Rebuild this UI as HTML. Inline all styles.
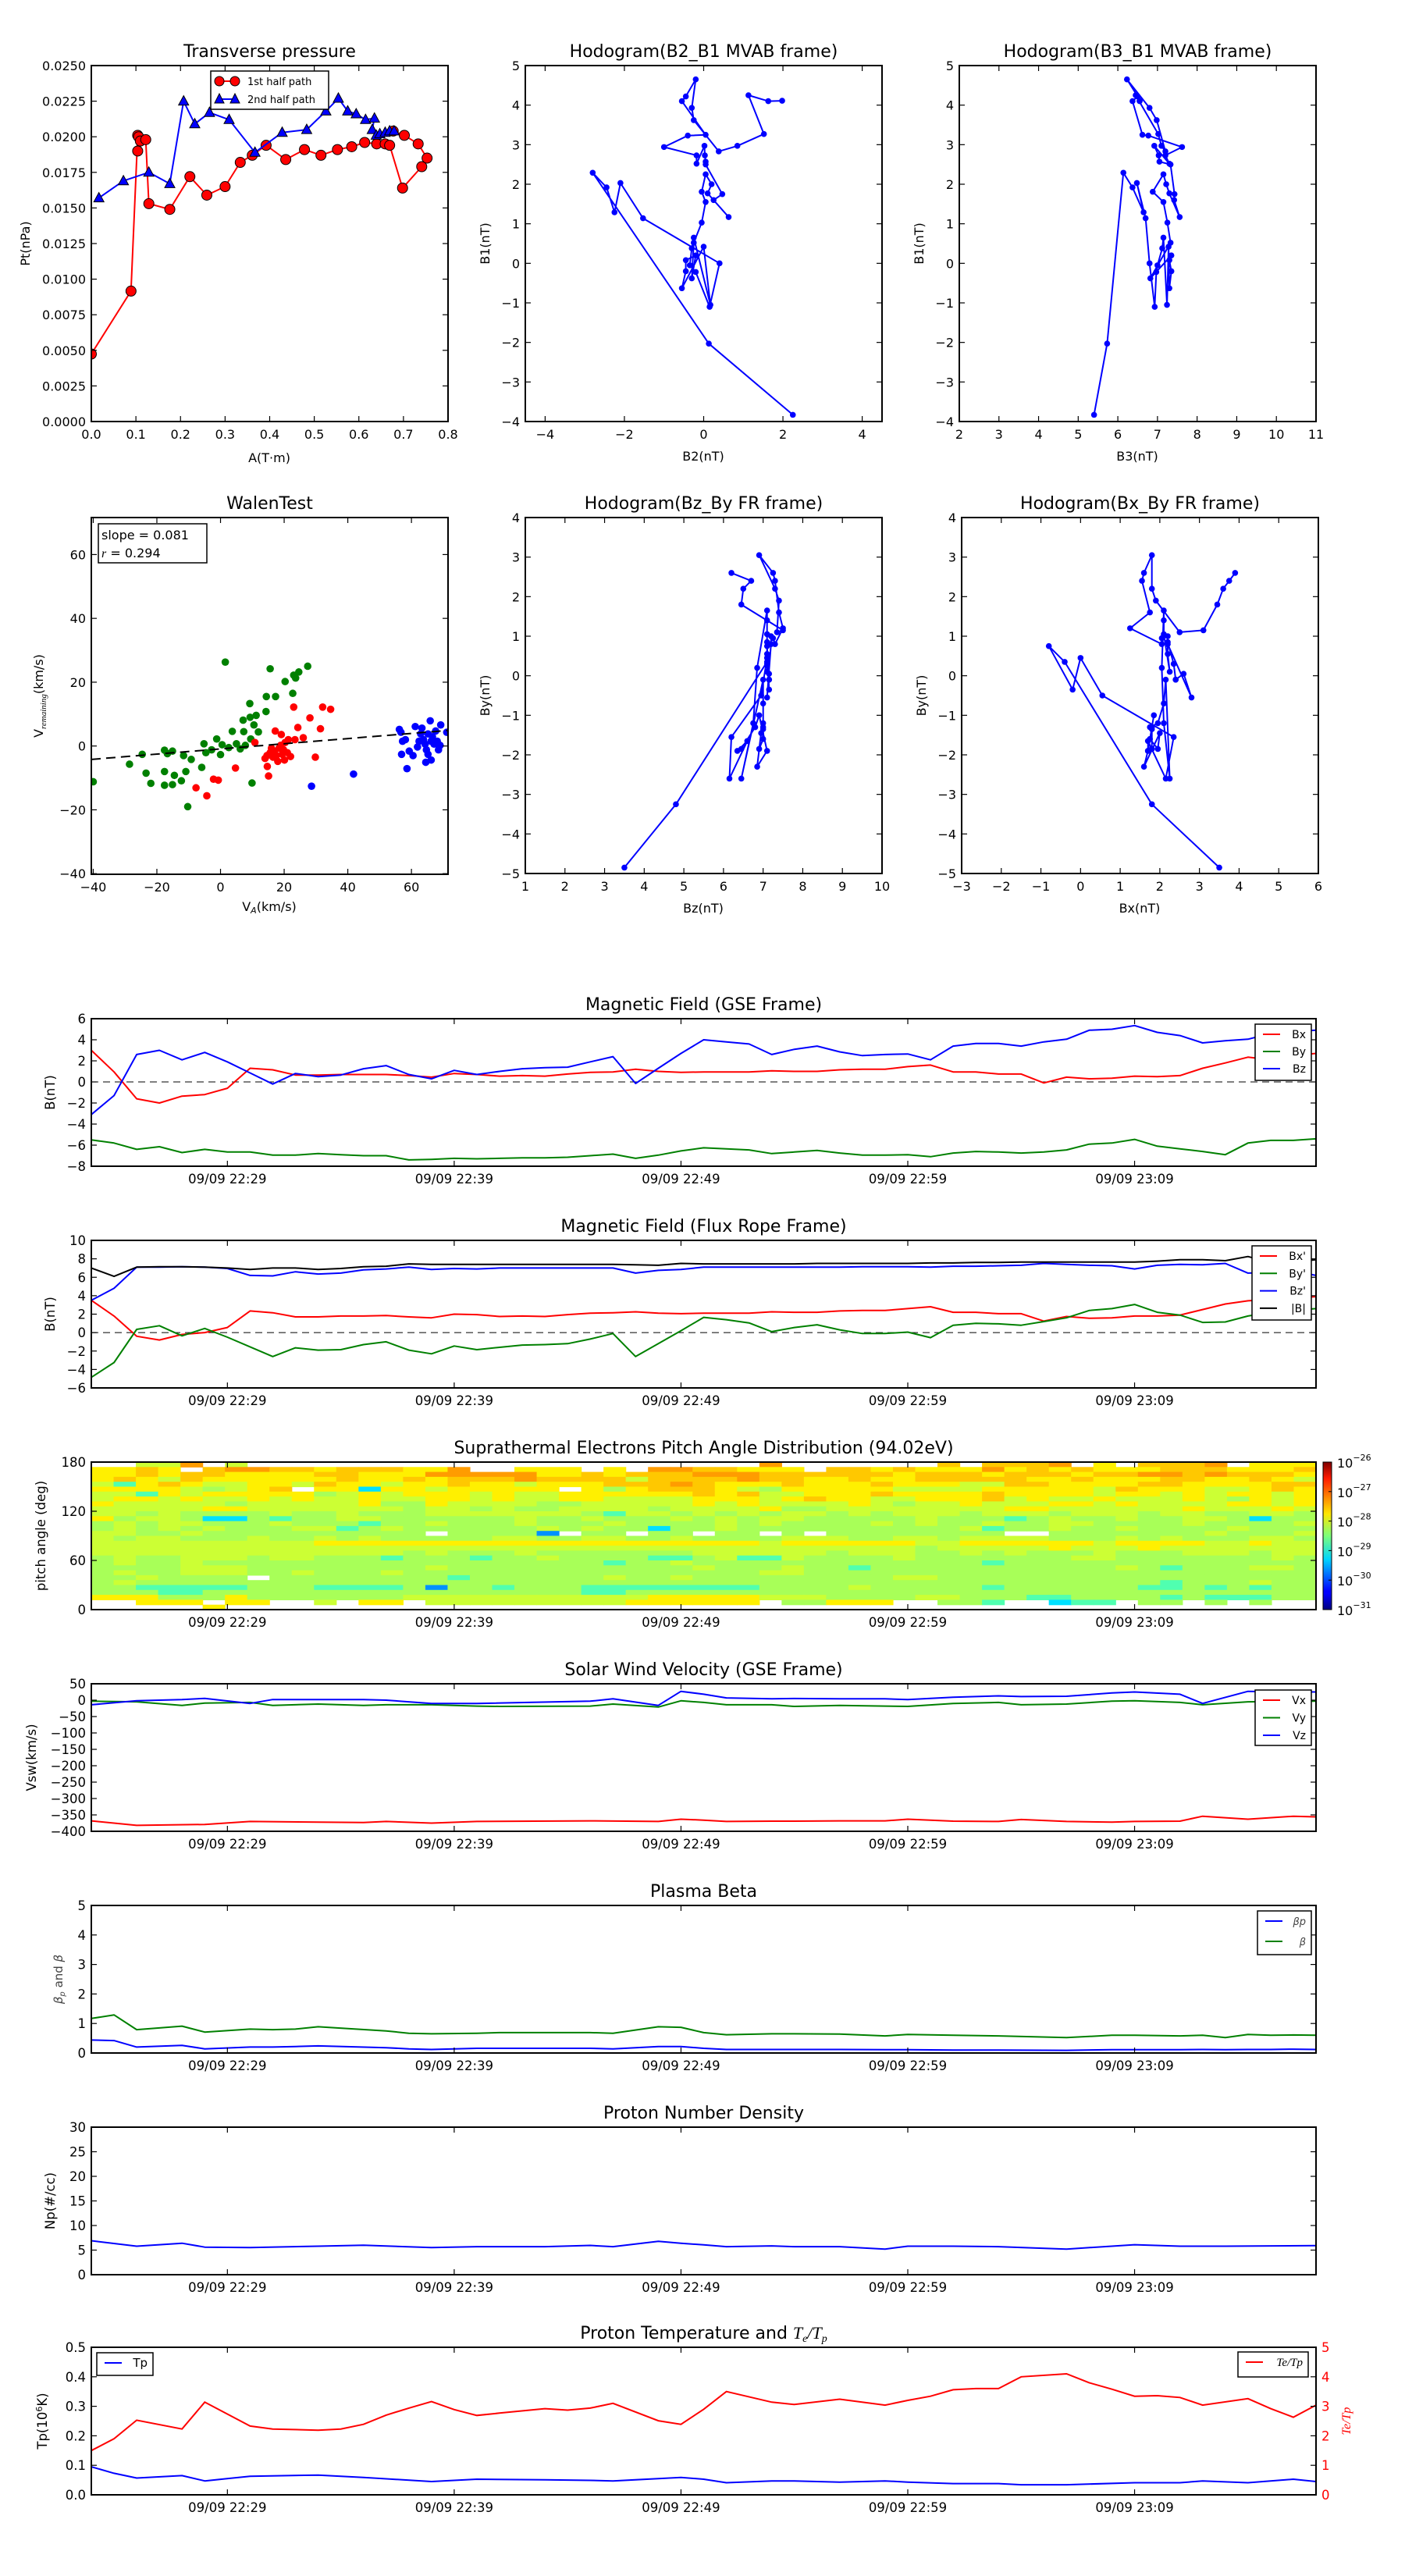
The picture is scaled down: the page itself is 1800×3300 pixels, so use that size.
<!DOCTYPE html>
<html><head><meta charset="utf-8"><title>Flux rope analysis</title>
<style>
html,body{margin:0;padding:0;background:#fff;}
svg{display:block;font-family:"DejaVu Sans","Liberation Sans",sans-serif;}
</style></head>
<body>
<svg id="fig" width="1800" height="3300" viewBox="0 0 1800 3300" xmlns="http://www.w3.org/2000/svg">
<defs>
<linearGradient id="jet" x1="0" y1="1" x2="0" y2="0">
<stop offset="0" stop-color="#00007f"/><stop offset="0.11" stop-color="#0000ff"/><stop offset="0.125" stop-color="#0000ff"/>
<stop offset="0.34" stop-color="#00d4ff"/><stop offset="0.5" stop-color="#7dff7a"/><stop offset="0.65" stop-color="#ffe600"/>
<stop offset="0.89" stop-color="#ff1a00"/><stop offset="1" stop-color="#7f0000"/>
</linearGradient>
</defs>
</svg>
<script>
// ---------------- DATA ----------------
// Transverse pressure
const tpA1=[0.0,0.089,0.104,0.106,0.104,0.110,0.122,0.129,0.176,0.221,0.259,0.300,0.334,0.361,0.392,0.436,0.478,0.515,0.552,0.584,0.613,0.640,0.659,0.669,0.698,0.741,0.753,0.733,0.702,0.677];
const tpP1=[0.00474,0.00916,0.0201,0.0200,0.0190,0.0197,0.0198,0.0153,0.0149,0.0172,0.0159,0.0165,0.0182,0.0187,0.0194,0.0184,0.0191,0.0187,0.0191,0.0193,0.0196,0.0195,0.0195,0.0194,0.0164,0.0179,0.0185,0.0195,0.0201,0.0204];
const tpA2=[0.017,0.072,0.129,0.176,0.207,0.232,0.265,0.309,0.367,0.428,0.483,0.526,0.554,0.575,0.594,0.615,0.635,0.630,0.639,0.647,0.659,0.669,0.679];
const tpP2=[0.0157,0.0169,0.0175,0.0167,0.0225,0.0209,0.0217,0.0212,0.0189,0.0203,0.0205,0.0218,0.0227,0.0218,0.0216,0.0212,0.0213,0.0205,0.0201,0.0202,0.0203,0.0204,0.0204];
// MVAB hodograms
const mvB1=[-3.83,-2.03,2.29,1.92,1.29,2.03,1.14,0.0,-1.1,-0.22,-0.05,0.38,0.65,-1.05,0.42,-0.63,-0.2,0.08,0.2,-0.38,0.52,1.03,1.55,1.81,2.25,2.0,1.77,1.17,1.6,1.75,2.5,2.57,2.73,2.97,2.52,2.73,2.94,3.23,3.25,4.1,4.22,4.65,3.93,3.62,2.83,2.97,3.27,4.25,4.1,4.11];
const mvB2=[2.25,0.13,-2.8,-2.45,-2.25,-2.1,-1.53,0.4,0.15,-0.2,-0.35,-0.3,-0.25,0.17,0.0,-0.55,-0.45,-0.45,-0.2,-0.3,-0.25,-0.05,0.05,-0.05,0.05,0.2,0.1,0.63,0.25,0.47,0.05,0.05,0.03,0.02,-0.18,-0.18,-1.0,-0.4,0.05,-0.55,-0.45,-0.2,-0.3,-0.25,0.38,0.85,1.52,1.13,1.63,1.98];
const mvB3=[5.4,5.73,6.14,6.37,6.65,6.48,6.7,6.8,6.93,6.97,7.0,7.12,7.15,7.24,7.28,7.3,7.35,7.3,7.35,6.82,7.33,7.25,7.15,6.88,7.15,7.22,7.3,7.56,7.42,7.43,7.33,7.05,7.03,6.92,7.3,7.2,7.62,6.77,6.62,6.37,6.5,6.23,6.8,6.98,7.2,7.1,7.02,6.45,6.55,6.55];
// Walen test
const walGx=[-40,-28.6,-24.6,-23.4,-21.9,-17.6,-16.7,-15.1,-17.6,-17.6,-15.1,-14.5,-12.3,-11.6,-10.9,-10.3,-9.2,-5.9,-5.2,-4.6,-2.8,-1.2,0,0.5,1.5,2.6,3.7,5,6.2,7.1,7.3,7.8,9.2,9.3,9.5,9.9,10.5,11.2,11.9,14.3,14.4,15.6,17.3,20.3,22.7,23,23.6,24.6,27.4];
const walGy=[-11.2,-5.7,-2.6,-8.5,-11.7,-1.3,-2.4,-1.6,-8,-12.3,-12.1,-9.2,-10.9,-3,-8,-19,-4.2,-6.7,0.7,-2.1,-1.2,2.2,-2.7,0.4,26.3,-0.5,4.6,0.7,-0.9,8.1,4.5,0.2,13.3,9,2.2,-11.6,6.6,9.6,4.4,10.8,15.5,24.2,15.5,20.2,16.5,22.2,21.3,23.2,25];
const walRx=[-7.7,-4.3,-2.2,-0.7,4.7,10.8,14,14.7,15.1,15.6,16.5,17.2,17.5,18.4,19.1,19.4,20.1,20.3,21.3,22,23,23.4,24.3,26,28.1,29.8,31.4,32.1,34.6,16,18,19.8,21,18.9,17,14.6];
const walRy=[-13.1,-15.6,-10.4,-10.7,-6.9,1.1,-3.9,-6.4,-9.4,-2.1,-3.5,4.7,-3,-0.7,3.6,-2.6,-4.4,1.1,2,-3.3,12.2,2,5.8,2.6,8.8,-3.5,5.4,12.2,11.5,-0.7,-4.8,-1.2,-2.1,0.2,-1.6,-3];
const walBx=[28.6,41.8,56.2,56.7,57.2,56.9,58.6,59.3,60.5,61.2,61.9,62.9,63.8,64.5,64.7,65.2,65.9,66.2,66.6,67.1,67.6,68.5,69,69.2,71.1,63.3,64.3,65.2,62.4,66.2,68.1,58.1];
const walBy=[-12.6,-8.8,5.2,4.3,1.5,-2.6,-7.1,-1.6,-3,6.1,-0.3,3.8,2,-5.1,-1.2,-2.6,7.9,-4.4,2.9,0.6,4.7,-1.2,0.2,6.6,4.3,5.6,0.6,3.8,1.5,1.5,1.5,2];
const walSlope=0.081, walIntercept=-0.91;
// Time series (minutes after 22:23)
const tB=[0,1,2,3,4,5,6,7,8,9,10,11,12,13,14,15,16,17,18,19,20,21,22,23,24,25,26,27,28,29,30,31,32,33,34,35,36,37,38,39,40,41,42,43,44,45,46,47,48,49,50,51,52,53,54];
const timeTickMin=[6,16,26,36,46];
const timeTickLabels=["09/09 22:29","09/09 22:39","09/09 22:49","09/09 22:59","09/09 23:09"];
const gseBx=[3.0,0.95,-1.6,-2.0,-1.35,-1.2,-0.6,1.3,1.15,0.65,0.65,0.7,0.7,0.7,0.6,0.45,0.8,0.7,0.55,0.6,0.55,0.75,0.9,0.95,1.2,1.0,0.9,0.95,0.95,0.95,1.05,1.0,1.0,1.15,1.2,1.2,1.45,1.6,0.95,0.95,0.75,0.75,-0.1,0.45,0.3,0.35,0.55,0.5,0.6,1.3,1.8,2.35,2.1,2.5,2.7];
const gseBy=[-5.5,-5.8,-6.4,-6.15,-6.7,-6.4,-6.65,-6.65,-6.95,-6.95,-6.8,-6.9,-7.0,-7.0,-7.4,-7.35,-7.25,-7.3,-7.25,-7.2,-7.2,-7.15,-7.0,-6.85,-7.25,-6.95,-6.55,-6.25,-6.35,-6.45,-6.8,-6.65,-6.5,-6.75,-6.95,-6.95,-6.9,-7.1,-6.75,-6.6,-6.65,-6.75,-6.65,-6.45,-5.9,-5.8,-5.45,-6.1,-6.35,-6.6,-6.9,-5.8,-5.55,-5.55,-5.4];
const gseBz=[-3.1,-1.3,2.6,3.0,2.1,2.8,1.9,0.85,-0.2,0.8,0.5,0.65,1.25,1.55,0.7,0.3,1.1,0.7,1.0,1.25,1.35,1.4,1.9,2.4,-0.15,1.3,2.7,4.0,3.8,3.6,2.6,3.1,3.4,2.85,2.5,2.6,2.65,2.1,3.4,3.65,3.65,3.4,3.8,4.05,4.9,5.0,5.35,4.7,4.4,3.7,3.9,4.05,4.6,4.8,4.9];
const frBx=[3.5,1.8,-0.4,-0.8,-0.2,0.0,0.55,2.35,2.15,1.7,1.7,1.8,1.8,1.85,1.7,1.6,2.0,1.95,1.75,1.8,1.75,1.95,2.1,2.15,2.25,2.1,2.05,2.1,2.1,2.1,2.25,2.2,2.2,2.35,2.4,2.4,2.6,2.8,2.2,2.2,2.05,2.05,1.25,1.75,1.55,1.6,1.8,1.8,1.9,2.5,3.1,3.45,3.6,3.75,3.9];
const frBy=[-4.85,-3.25,0.35,0.75,-0.35,0.45,-0.5,-1.55,-2.6,-1.65,-1.9,-1.85,-1.3,-1.0,-1.9,-2.3,-1.45,-1.85,-1.6,-1.35,-1.3,-1.2,-0.7,-0.1,-2.6,-1.2,0.2,1.65,1.4,1.05,0.1,0.55,0.85,0.3,-0.1,-0.1,0.05,-0.55,0.8,1.0,0.95,0.8,1.2,1.6,2.4,2.6,3.05,2.2,1.9,1.1,1.15,1.8,2.2,2.4,2.6];
const frBz=[3.5,4.8,7.1,7.1,7.15,7.1,6.95,6.2,6.15,6.6,6.35,6.45,6.8,6.9,7.1,6.85,6.95,6.9,7.0,7.0,7.0,7.0,7.0,7.0,6.45,6.75,6.85,7.1,7.1,7.1,7.1,7.1,7.1,7.1,7.15,7.15,7.15,7.1,7.2,7.2,7.25,7.3,7.5,7.4,7.3,7.25,6.9,7.3,7.4,7.35,7.5,6.45,6.5,6.7,6.2];
const frBt=[7.0,6.1,7.1,7.15,7.15,7.1,7.0,6.85,7.0,7.0,6.85,6.95,7.15,7.2,7.45,7.4,7.4,7.4,7.4,7.4,7.4,7.4,7.4,7.4,7.35,7.3,7.5,7.45,7.45,7.45,7.45,7.45,7.5,7.5,7.5,7.5,7.5,7.55,7.55,7.6,7.6,7.65,7.65,7.65,7.65,7.65,7.65,7.75,7.9,7.9,7.8,8.25,7.6,7.65,7.9];
// PAD levels (rows from 174-180 deg down to 0-6 deg; '.' = no data; 0-9 = log level)
const padRows=[
"..669 .6... ..... ..... ..... ..... 9.... ...8. 8889. 7.888 9.777",
"7787. 89988 78887 79..7 77.7. 99887 77.88 78777 97878 77788 87778",
"77878 87777 88777 99999 77878 88999 88888 87888 78887 88998 98887",
"78768 77777 78778 78889 88886 88889 88778 77888 88778 77788 77876",
"64787 66776 87767 78776 77788 89877 78777 87776 68877 77887 77788",
"77776 5678. 77377 67777 7.757 88876 57777 76666 77777 68777 66787",
"66476 77777 56767 77676 67777 77878 66777 87777 87777 67767 67767",
"67767 66767 66766 77676 67766 66777 67877 66777 86766 76667 65767",
"76666 65666 66755 76666 55666 66767 66667 65667 66677 67666 67767",
"66666 77666 66665 66565 56666 56666 75566 66666 67766 66667 66676",
"66565 55565 56555 66666 66546 65656 56656 56665 66656 66566 55665",
"75665 33545 56655 55556 55655 56565 66555 55655 54565 56556 65355",
"56566 55565 55455 65556 55565 55565 65555 65655 65566 55556 55556",
"56565 65556 64565 55555 65655 35565 55555 55556 45565 56555 56555",
"66556 55555 55555 .5555 2.55. 55.55 .5.55 55555 5..55 55555 65556",
"65665 55655 65655 55566 55665 56555 56665 56656 66655 56565 55665",
"66666 66666 77777 77777 77777 77777 67777 77667 77777 67777 66766",
"66666 66666 66666 66666 66666 66666 66666 66566 66676 66766 66666",
"66666 66666 66665 65556 55555 55666 66656 66556 56555 65556 66566",
"56556 66566 55545 55455 65555 44564 46555 56555 55556 65555 55565",
"56556 55555 55555 55555 55545 56555 55555 55555 45555 55555 55555",
"55556 66555 55555 65555 55555 55655 56554 55555 55555 56545 55665",
"56556 66556 55565 55555 55555 55555 66555 55555 55555 55555 55555",
"55655 55.55 55555 54555 55565 56555 55555 56655 55555 55555 55555",
"56555 55555 55555 55555 55555 55555 55555 55555 55555 55545 55655",
"55444 44555 44445 25545 55444 44444 55556 55555 45555 55445 45455",
"55544 55555 55555 55555 55445 55555 55555 55555 55555 55555 55555",
"77755 57555 55556 66666 66666 77777 66655 55665 55445 55545 44455",
"..777 .77.. 6.77. 66666 66667 77777 .5577 7..55 4..34 4.55. 5.5..",
"..... 7.... ..... ..... ..... ..... ..... ..... ..... ..... ....."
];
const padLevelColor=["#0000ff","#0040ff","#0090ff","#00e0ff","#50ffb0","#a8ff58","#ccff34","#fff000","#ffc800","#ff9c00"];
const cbarLabels=["−26","−27","−28","−29","−30","−31"];
// Solar wind velocity
const tVx=[0,2,5,7,10,12,13,15,17,22,25,26,27,28,30,31,33,35,36,38,40,41,43,45,46,48,49,51,53,54];
const vx=[-368,-382,-379,-370,-372,-373,-370,-375,-370,-368,-370,-363,-366,-370,-369,-369,-368,-368,-363,-369,-370,-364,-370,-372,-370,-369,-354,-363,-354,-356];
const tVy=[0,2,4,5,7,8,10,12,13,15,17,18,22,23,25,26,27,28,30,31,33,35,36,38,40,41,43,45,46,48,49,51,54];
const vy=[-3,-5,-16,-9,-7,-16,-12,-16,-14,-14,-18,-19,-18,-12,-21,-2,-7,-14,-14,-19,-16,-18,-19,-10,-7,-14,-12,-3,-2,-7,-14,-5,-3];
const tVz=[0,2,4,5,7,8,10,12,13,15,17,22,23,25,26,27,28,30,31,33,35,36,38,40,41,43,45,46,48,49,51,52,54];
const vz=[-14,-2,2,5.5,-10,2,2,2,0,-10,-10,-3,4,-16,27,18,7,4,5,4,4,2,9,13,11,12,22,25,18,-10,27,26,25];
// Plasma beta
const tBeta=[0,1,2,4,5,7,8,9,10,13,14,15,17,18,22,23,25,26,27,28,30,31,33,35,36,38,40,43,45,46,48,49,50,51,52,53,54];
const betaAll=[1.17,1.29,0.79,0.91,0.71,0.81,0.79,0.81,0.89,0.75,0.67,0.65,0.67,0.69,0.69,0.67,0.89,0.87,0.69,0.62,0.65,0.65,0.64,0.58,0.63,0.6,0.58,0.52,0.6,0.6,0.58,0.6,0.52,0.63,0.6,0.61,0.6];
const betaP=[0.44,0.42,0.2,0.26,0.14,0.2,0.2,0.22,0.24,0.18,0.14,0.12,0.16,0.16,0.16,0.14,0.22,0.22,0.16,0.12,0.12,0.12,0.12,0.11,0.11,0.1,0.1,0.09,0.11,0.11,0.11,0.12,0.11,0.12,0.12,0.13,0.12];
// Proton density
const tNp=[0,2,4,5,7,10,12,15,17,20,22,23,25,26,27,28,30,31,33,35,36,38,40,43,46,48,50,54];
const np=[6.9,5.8,6.4,5.6,5.5,5.8,6.0,5.5,5.7,5.7,5.95,5.7,6.8,6.4,6.07,5.7,5.85,5.7,5.7,5.2,5.8,5.8,5.7,5.2,6.1,5.8,5.8,5.9];
// Proton temperature and Te/Tp
const tTp=[0,1,2,4,5,7,10,12,15,17,20,22,23,25,26,27,28,30,31,33,35,36,38,40,41,43,46,48,49,51,53,54];
const tp=[0.095,0.073,0.057,0.065,0.047,0.063,0.067,0.059,0.045,0.053,0.051,0.049,0.047,0.055,0.059,0.053,0.041,0.047,0.047,0.043,0.047,0.043,0.038,0.038,0.034,0.034,0.041,0.041,0.047,0.041,0.053,0.045];
const tRatio=[0,1,2,4,5,7,8,10,11,12,13,14,15,16,17,18,20,21,22,23,25,26,27,28,30,31,33,35,36,37,38,39,40,41,43,44,45,46,47,48,49,51,52,53,54];
const ratio=[1.5,1.9,2.53,2.23,3.14,2.33,2.23,2.19,2.23,2.39,2.7,2.94,3.16,2.89,2.69,2.77,2.92,2.87,2.94,3.1,2.51,2.39,2.9,3.5,3.14,3.06,3.24,3.04,3.2,3.34,3.56,3.6,3.6,4.0,4.1,3.8,3.58,3.34,3.36,3.3,3.04,3.26,2.92,2.63,3.04];

// ---------------- HELPERS ----------------
const NS='http://www.w3.org/2000/svg';
const svg=document.getElementById('fig');
let clipId=0;
function mk(tag,attrs,parent,name){
  const e=document.createElementNS(NS,tag);
  for(const k in attrs) e.setAttribute(k,attrs[k]);
  
  
  parent.appendChild(e);
  return e;
}
function txt(parent,x,y,s,size,anchor,name,extra){
  const a={x:x,y:y,'font-size':size,'text-anchor':anchor||'middle',fill:'#000'};
  if(extra) for(const k in extra) a[k]=extra[k];
  const t=mk('text',a,parent,name);
  t.textContent=s;
  return t;
}
function fmtNum(v,d){const s=v.toFixed(d);return s.replace('-','−');}
function makeAxes(name,x0,y0,w,h,xr,yr){
  const g=mk('g',{},svg,name);
  const id='clip'+(clipId++);
  const cp=mk('clipPath',{id:id},g,name+'-clip');
  mk('rect',{x:x0,y:y0,width:w,height:h},cp,name+'-clip-rect');
  const plot=mk('g',{'clip-path':'url(#'+id+')'},g,name+'-plot-area');
  return {g:g,plot:plot,x0:x0,y0:y0,w:w,h:h,
    sx:v=>x0+(v-xr[0])/(xr[1]-xr[0])*w,
    sy:v=>y0+h-(v-yr[0])/(yr[1]-yr[0])*h};
}
function frame(ax){
  mk('rect',{x:ax.x0,y:ax.y0,width:ax.w,height:ax.h,fill:'none',stroke:'#000','stroke-width':2},ax.g,'axes-frame');
}
function xTicks(ax,vals,labels,size,noTop){
  vals.forEach((v,i)=>{
    const x=ax.sx(v);
    mk('line',{x1:x,x2:x,y1:ax.y0+ax.h,y2:ax.y0+ax.h-7,stroke:'#000','stroke-width':1.2},ax.g,'x-tick');
    if(!noTop) mk('line',{x1:x,x2:x,y1:ax.y0,y2:ax.y0+7,stroke:'#000','stroke-width':1.2},ax.g,'x-tick-top');
    txt(ax.g,x,ax.y0+ax.h+22,labels[i],size,'middle','x-tick-label');
  });
}
function yTicks(ax,vals,labels,size,noRight){
  vals.forEach((v,i)=>{
    const y=ax.sy(v);
    mk('line',{x1:ax.x0,x2:ax.x0+7,y1:y,y2:y,stroke:'#000','stroke-width':1.2},ax.g,'y-tick');
    if(!noRight) mk('line',{x1:ax.x0+ax.w,x2:ax.x0+ax.w-7,y1:y,y2:y,stroke:'#000','stroke-width':1.2},ax.g,'y-tick-right');
    txt(ax.g,ax.x0-7,y+6,labels[i],size,'end','y-tick-label');
  });
}
function yLabel(ax,x,s,size,name,fill){
  const cy=ax.y0+ax.h/2;
  return txt(ax.g,x,cy,s,size,'middle',name,{transform:'rotate(-90 '+x+' '+cy+')',fill:fill||'#000'});
}
function polyline(ax,xs,ys,color,width,name){
  const pts=xs.map((v,i)=>ax.sx(v).toFixed(1)+','+ax.sy(ys[i]).toFixed(1)).join(' ');
  return mk('polyline',{points:pts,fill:'none',stroke:color,'stroke-width':width,'stroke-linejoin':'round'},ax.plot,name);
}
function dots(ax,xs,ys,color,r,name,edge){
  xs.forEach((v,i)=>{
    const a={cx:ax.sx(v),cy:ax.sy(ys[i]),r:r,fill:color};
    if(edge){a.stroke='#000';a['stroke-width']=1;}
    mk('circle',a,ax.plot,name);
  });
}
function range(a,b,s){const r=[];for(let v=a;v<=b+1e-9;v+=s)r.push(Math.round(v*1e6)/1e6);return r;}
function intLabels(v){return v.map(x=>fmtNum(x,0));}
function title(ax,s,name){txt(ax.g,ax.x0+ax.w/2,ax.y0-11,s,22,'middle',name);}

// ---------------- TRANSVERSE PRESSURE ----------------
(function(){
  const ax=makeAxes('transverse-pressure-chart',117,84,457,456,[0,0.8],[0,0.025]);
  polyline(ax,tpA1,tpP1,'#ff0000',2,'first-half-path-line');
  dots(ax,tpA1,tpP1,'#ff0000',6.5,'first-half-point',true);
  polyline(ax,tpA2,tpP2,'#0000ff',2,'second-half-path-line');
  tpA2.forEach((v,i)=>{
    const x=ax.sx(v),y=ax.sy(tpP2[i]);
    const t=mk('polygon',{points:(x)+','+(y-7)+' '+(x-6.5)+','+(y+5)+' '+(x+6.5)+','+(y+5),fill:'#0000ff',stroke:'#000','stroke-width':1},ax.plot,'second-half-point');
  });
  const xv=range(0,0.8,0.1); xTicks(ax,xv,xv.map(v=>v.toFixed(1)),16);
  const yv=range(0,0.025,0.0025); yTicks(ax,yv,yv.map(v=>v.toFixed(4)),16);
  frame(ax);
  title(ax,'Transverse pressure','transverse-pressure-title');
  txt(ax.g,345,592,'A(T·m)',16,'middle','x-axis-title');
  yLabel(ax,38,'Pt(nPa)',16,'y-axis-title');
  const lg=mk('g',{},ax.g,'legend');
  mk('rect',{x:270,y:91,width:151,height:49,fill:'#fff',stroke:'#000','stroke-width':1.5},lg,'legend-box');
  mk('line',{x1:281,x2:301,y1:104,y2:104,stroke:'#ff0000','stroke-width':2},lg,'legend-line-first');
  mk('circle',{cx:281,cy:104,r:6,fill:'#ff0000',stroke:'#000'},lg,'legend-marker-first');
  mk('circle',{cx:301,cy:104,r:6,fill:'#ff0000',stroke:'#000'},lg,'legend-marker-first');
  txt(lg,317,109,'1st half path',13,'start','legend-entry-first');
  mk('line',{x1:281,x2:301,y1:127,y2:127,stroke:'#0000ff','stroke-width':2},lg,'legend-line-second');
  mk('polygon',{points:'281,120 275,132 287,132',fill:'#0000ff',stroke:'#000'},lg,'legend-marker-second');
  mk('polygon',{points:'301,120 295,132 307,132',fill:'#0000ff',stroke:'#000'},lg,'legend-marker-second');
  txt(lg,317,132,'2nd half path',13,'start','legend-entry-second');
})();

// ---------------- HODOGRAMS ----------------
function hodo(name,x0,y0,xs,ys,xr,yr,xt,yt,ttl,xl,yl,ylx){
  const ax=makeAxes(name,x0,y0,457,456,xr,yr);
  polyline(ax,xs,ys,'#0000ff',2,'hodogram-path');
  dots(ax,xs,ys,'#0000ff',3.8,'hodogram-point');
  xTicks(ax,xt,intLabels(xt),16);
  yTicks(ax,yt,intLabels(yt),16);
  frame(ax);
  title(ax,ttl,'hodogram-title');
  txt(ax.g,x0+228,y0+506,xl,16,'middle','x-axis-title');
  yLabel(ax,ylx,yl,16,'y-axis-title');
  return ax;
}
hodo('hodogram-b2-b1',673,84,mvB2,mvB1,[-4.5,4.5],[-4,5],range(-4,4,2),range(-4,5,1),'Hodogram(B2_B1 MVAB frame)','B2(nT)','B1(nT)',627);
hodo('hodogram-b3-b1',1229,84,mvB3,mvB1,[2,11],[-4,5],range(2,11,1),range(-4,5,1),'Hodogram(B3_B1 MVAB frame)','B3(nT)','B1(nT)',1183);
hodo('hodogram-bz-by',673,663,frBz,frBy,[1,10],[-5,4],range(1,10,1),range(-5,4,1),'Hodogram(Bz_By FR frame)','Bz(nT)','By(nT)',627);
hodo('hodogram-bx-by',1232,663,frBx,frBy,[-3,6],[-5,4],range(-3,6,1),range(-5,4,1),'Hodogram(Bx_By FR frame)','Bx(nT)','By(nT)',1186);

// ---------------- WALEN TEST ----------------
(function(){
  const ax=makeAxes('walen-test-chart',117,663,457,457,[-40.6,71.5],[-40.2,71.6]);
  dots(ax,walGx,walGy,'#008000',4.8,'walen-point-green');
  dots(ax,walRx,walRy,'#ff0000',4.8,'walen-point-red');
  dots(ax,walBx,walBy,'#0000ff',4.8,'walen-point-blue');
  const xa=-40.6,xb=71.5;
  mk('line',{x1:ax.sx(xa),y1:ax.sy(walSlope*xa+walIntercept),x2:ax.sx(xb),y2:ax.sy(walSlope*xb+walIntercept),stroke:'#000','stroke-width':2,'stroke-dasharray':'12,7'},ax.plot,'regression-line');
  const xv=range(-40,60,20); xTicks(ax,xv,intLabels(xv),16);
  const yv=range(-40,60,20); yTicks(ax,yv,intLabels(yv),16);
  frame(ax);
  title(ax,'WalenTest','walen-test-title');
  const xl=txt(ax.g,345,1167,'V',16,'middle','x-axis-title');
  const s1=mk('tspan',{'font-size':11,'font-style':'italic',dy:3},xl,'x-axis-title-subscript'); s1.textContent='A';
  const s2=mk('tspan',{dy:-3},xl,'x-axis-title-units'); s2.textContent='(km/s)';
  const yl=yLabel(ax,55,'V',16,'y-axis-title');
  const s3=mk('tspan',{'font-size':11,'font-style':'italic','font-family':'Liberation Serif, serif',dy:4},yl,'y-axis-title-subscript'); s3.textContent='remaining';
  const s4=mk('tspan',{dy:-4},yl,'y-axis-title-units'); s4.textContent='(km/s)';
  const bx=mk('g',{},ax.g,'walen-stats-box');
  mk('rect',{x:126,y:671,width:139,height:50,fill:'#fff',stroke:'#000','stroke-width':1.5},bx,'stats-box-border');
  txt(bx,130,691,'slope = 0.081',16,'start','slope-text');
  const rt=txt(bx,130,714,'',16,'start','r-text');
  const rs=mk('tspan',{'font-style':'italic','font-family':'Liberation Serif, serif'},rt,'r-symbol'); rs.textContent='r';
  const rv=mk('tspan',{},rt,'r-value'); rv.textContent=' = 0.294';
})();

// ---------------- TIME SERIES ----------------
const TSX=117,TSW=1569,TSH=189;
function tsAxes(name,top,yr){
  return makeAxes(name,TSX,top,TSW,TSH,[0,54],yr);
}
function tsFinish(ax,ttl,yt,ylab,ylx,noRight){
  xTicks(ax,timeTickMin,timeTickLabels,16.5);
  yTicks(ax,yt,yt.map(v=>fmtNum(v,Number.isInteger(v)?0:1)),16.5,noRight);
  frame(ax);
  title(ax,ttl,'panel-title');
  if(ylab) yLabel(ax,ylx,ylab,16.5,'y-axis-title');
}
function zeroLine(ax){
  mk('line',{x1:ax.x0,x2:ax.x0+ax.w,y1:ax.sy(0),y2:ax.sy(0),stroke:'#000','stroke-width':1,'stroke-dasharray':'9,6'},ax.plot,'zero-reference-line');
}
function legend(parent,x,y,w,h,entries,name,fsz){
  const g=mk('g',{},parent,name);
  mk('rect',{x:x,y:y,width:w,height:h,fill:'#fff',stroke:'#000','stroke-width':1.5},g,'legend-box');
  entries.forEach((e,i)=>{
    const yy=y+13+i*e.dy;
    mk('line',{x1:x+10,x2:x+32,y1:yy,y2:yy,stroke:e.c,'stroke-width':2},g,'legend-line');
    txt(g,x+w-7,yy+5,e.t,fsz||14,'end','legend-entry',e.extra);
  });
  return g;
}
// GSE magnetic field
(function(){
  const ax=tsAxes('magnetic-field-gse-chart',1305,[-8,6]);
  zeroLine(ax);
  polyline(ax,tB,gseBx,'#ff0000',2,'bx-line');
  polyline(ax,tB,gseBy,'#008000',2,'by-line');
  polyline(ax,tB,gseBz,'#0000ff',2,'bz-line');
  tsFinish(ax,'Magnetic Field (GSE Frame)',range(-8,6,2),'B(nT)',70);
  legend(ax.g,1608,1312,72,72,[{t:'Bx',c:'#ff0000',dy:22},{t:'By',c:'#008000',dy:22},{t:'Bz',c:'#0000ff',dy:22}],'gse-legend');
})();
// Flux rope magnetic field
(function(){
  const ax=tsAxes('magnetic-field-flux-rope-chart',1589,[-6,10]);
  zeroLine(ax);
  polyline(ax,tB,frBx,'#ff0000',2,'bx-prime-line');
  polyline(ax,tB,frBy,'#008000',2,'by-prime-line');
  polyline(ax,tB,frBz,'#0000ff',2,'bz-prime-line');
  polyline(ax,tB,frBt,'#000000',2,'b-total-line');
  tsFinish(ax,'Magnetic Field (Flux Rope Frame)',range(-6,10,2),'B(nT)',70);
  legend(ax.g,1604,1596,76,95,[{t:"Bx'",c:'#ff0000',dy:22.3},{t:"By'",c:'#008000',dy:22.3},{t:"Bz'",c:'#0000ff',dy:22.3},{t:'|B|',c:'#000000',dy:22.3}],'flux-rope-legend');
})();
// PAD
(function(){
  const ax=tsAxes('pitch-angle-distribution-chart',1873,[0,180]);
  const colW=ax.w/55;
  padRows.forEach((row,ri)=>{
    const cells=row.replace(/ /g,'');
    for(let ci=0;ci<55;ci++){
      const ch=cells[ci]||'.';
      if(ch==='.') continue;
      const lev=parseInt(ch,10);
      const y1=ax.sy(180-ri*6), y2=ax.sy(180-(ri+1)*6);
      mk('rect',{x:(ax.x0+ci*colW).toFixed(2),y:y1.toFixed(2),width:(colW+0.6).toFixed(2),height:(y2-y1+0.6).toFixed(2),fill:padLevelColor[lev]},ax.plot,'pad-cell');
    }
  });
  tsFinish(ax,'Suprathermal Electrons Pitch Angle Distribution (94.02eV)',[0,60,120,180],'pitch angle (deg)',58);
  const cb=mk('g',{},svg,'pad-colorbar');
  mk('rect',{x:1695,y:1873,width:11,height:189,fill:'url(#jet)',stroke:'#000','stroke-width':1},cb,'colorbar-gradient');
  cbarLabels.forEach((e,i)=>{
    const y=1873+i*189/5;
    mk('line',{x1:1702,x2:1706,y1:y,y2:y,stroke:'#000'},cb,'colorbar-tick');
    const t=txt(cb,1713,y+7,'10',16,'start','colorbar-label');
    const sup=mk('tspan',{'font-size':11,dy:-9},t,'colorbar-label-exponent'); sup.textContent=e;
  });
})();
// Solar wind velocity
(function(){
  const ax=tsAxes('solar-wind-velocity-chart',2157,[-400,50]);
  polyline(ax,tVx,vx,'#ff0000',2,'vx-line');
  polyline(ax,tVy,vy,'#008000',2,'vy-line');
  polyline(ax,tVz,vz,'#0000ff',2,'vz-line');
  tsFinish(ax,'Solar Wind Velocity (GSE Frame)',range(-400,50,50),'Vsw(km/s)',46);
  legend(ax.g,1608,2165,72,71,[{t:'Vx',c:'#ff0000',dy:22.5},{t:'Vy',c:'#008000',dy:22.5},{t:'Vz',c:'#0000ff',dy:22.5}],'velocity-legend');
})();
// Plasma beta
(function(){
  const ax=tsAxes('plasma-beta-chart',2441,[0,5]);
  polyline(ax,tBeta,betaP,'#0000ff',2,'beta-p-line');
  polyline(ax,tBeta,betaAll,'#008000',2,'beta-line');
  tsFinish(ax,'Plasma Beta',range(0,5,1),null,0);
  const cy=ax.y0+ax.h/2;
  const yl=txt(ax.g,80,cy,'β',15,'middle','y-axis-title',{transform:'rotate(-90 80 '+cy+')',fill:'#444','font-style':'italic'});
  const a1=mk('tspan',{'font-size':10,dy:3},yl,'y-axis-title-sub'); a1.textContent='p';
  const a2=mk('tspan',{dy:-3,'font-style':'normal'},yl,'y-axis-title-mid'); a2.textContent=' and ';
  const a3=mk('tspan',{},yl,'y-axis-title-beta'); a3.textContent='β';
  legend(ax.g,1611,2448,69,56,[{t:'βp',c:'#0000ff',dy:26,extra:{'font-style':'italic',fill:'#444'}},{t:'β',c:'#008000',dy:26,extra:{'font-style':'italic',fill:'#444'}}],'beta-legend',13);
})();
// Proton density
(function(){
  const ax=tsAxes('proton-density-chart',2725,[0,30]);
  polyline(ax,tNp,np,'#0000ff',2,'np-line');
  tsFinish(ax,'Proton Number Density',range(0,30,5),'Np(#/cc)',70);
})();
// Proton temperature
(function(){
  const ax=tsAxes('proton-temperature-chart',3007,[0,0.5]);
  const sr=v=>ax.y0+ax.h-v/5*ax.h;
  polyline(ax,tTp,tp,'#0000ff',2,'tp-line');
  const pts=tRatio.map((v,i)=>ax.sx(v).toFixed(1)+','+sr(ratio[i]).toFixed(1)).join(' ');
  mk('polyline',{points:pts,fill:'none',stroke:'#ff0000','stroke-width':2},ax.plot,'te-tp-ratio-line');
  xTicks(ax,timeTickMin,timeTickLabels,16.5);
  const yv=range(0,0.5,0.1);
  yv.forEach(v=>{
    const y=ax.sy(v);
    mk('line',{x1:ax.x0,x2:ax.x0+7,y1:y,y2:y,stroke:'#000','stroke-width':1.2},ax.g,'y-tick');
    txt(ax.g,ax.x0-7,y+6,v.toFixed(1),16.5,'end','y-tick-label');
  });
  range(0,5,1).forEach(v=>{
    const y=sr(v);
    mk('line',{x1:ax.x0+ax.w,x2:ax.x0+ax.w-7,y1:y,y2:y,stroke:'#000','stroke-width':1.2},ax.g,'right-y-tick');
    txt(ax.g,ax.x0+ax.w+7,y+6,String(v),16.5,'start','right-y-tick-label',{fill:'#ff0000'});
  });
  frame(ax);
  const tt=txt(ax.g,ax.x0+ax.w/2,ax.y0-11,'Proton Temperature and ',22,'middle','panel-title');
  const m=mk('tspan',{'font-family':'Liberation Serif, serif','font-style':'italic'},tt,'title-math'); m.textContent='T';
  const m2=mk('tspan',{'font-size':14,dy:4,'font-family':'Liberation Serif, serif','font-style':'italic'},tt,'title-math-sub'); m2.textContent='e';
  const m3=mk('tspan',{dy:-4,'font-family':'Liberation Serif, serif','font-style':'italic'},tt,'title-math-2'); m3.textContent='/T';
  const m4=mk('tspan',{'font-size':14,dy:4,'font-family':'Liberation Serif, serif','font-style':'italic'},tt,'title-math-sub2'); m4.textContent='p';
  const cy=ax.y0+ax.h/2;
  const yl=txt(ax.g,60,cy,'Tp(10',16.5,'middle','y-axis-title',{transform:'rotate(-90 60 '+cy+')'});
  const e1=mk('tspan',{'font-size':11,dy:-6},yl,'y-axis-title-exp'); e1.textContent='6';
  const e2=mk('tspan',{dy:6},yl,'y-axis-title-units'); e2.textContent='K)';
  txt(ax.g,1730,cy,'Te/Tp',16,'middle','right-y-axis-title',{transform:'rotate(-90 1730 '+cy+')',fill:'#ff0000','font-style':'italic','font-family':'Liberation Serif, serif'});
  legend(ax.g,124,3014,72,29,[{t:'Tp',c:'#0000ff',dy:0}],'tp-legend',15);
  legend(ax.g,1586,3013,90,32,[{t:'Te/Tp',c:'#ff0000',dy:0,extra:{'font-style':'italic','font-family':'Liberation Serif, serif'}}],'te-tp-legend',15);
})();
</script>
</body></html>
